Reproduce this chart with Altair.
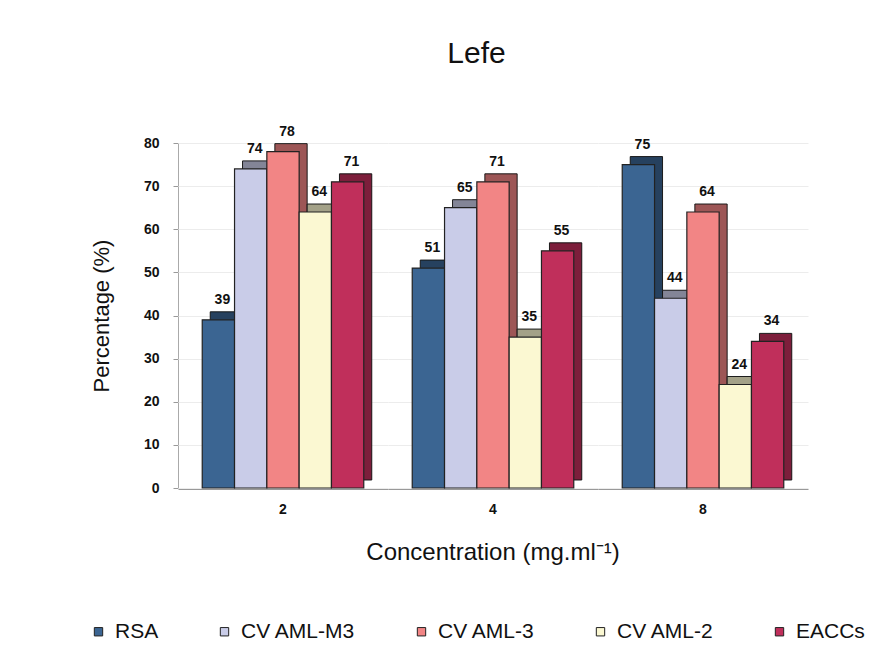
import altair as alt
import pandas as pd

concentrations = ["2", "4", "8"]
series = ["RSA", "CV AML-M3", "CV AML-3", "CV AML-2", "EACCs"]
colors = ["#3B6592", "#C9CCE8", "#F28585", "#FBF8D2", "#C02F5B"]
values = {
    "RSA": [39, 51, 75],
    "CV AML-M3": [74, 65, 44],
    "CV AML-3": [78, 71, 64],
    "CV AML-2": [64, 35, 24],
    "EACCs": [71, 55, 34],
}

rows = []
for s in series:
    for c, v in zip(concentrations, values[s]):
        rows.append({"conc": c, "series": s, "value": v})
df = pd.DataFrame(rows)

D = 8  # depth in px

x = alt.X("series:N", sort=series,
          scale=alt.Scale(paddingInner=0, paddingOuter=0.75),
          axis=alt.Axis(title=None, labels=False, ticks=False, grid=False,
                        domainColor="#999"))
y = alt.Y("value:Q", scale=alt.Scale(domain=[0, 80]),
          axis=alt.Axis(title="Percentage (%)", values=list(range(0, 81, 10)),
                        labelFontSize=14, labelFontWeight="bold", labelColor="#111",
                        titleFontSize=22, titleFontWeight="normal", titlePadding=30,
                        titleColor="#111", gridColor="#ececec", domainColor="#aaa",
                        tickColor="#999", tickSize=5, labelPadding=14))
color = alt.Color("series:N", sort=series,
                  scale=alt.Scale(domain=series, range=colors),
                  legend=alt.Legend(orient="none", legendX=-90, legendY=478,
                                    direction="horizontal", title=None,
                                    symbolType="square", symbolSize=70,
                                    symbolStrokeColor="#222", symbolStrokeWidth=1,
                                    labelFontSize=21, labelColor="#111",
                                    columnPadding=55, labelOffset=6))

base = alt.Chart()

depth = base.mark_bar(xOffset=D, yOffset=-D, stroke="#222", strokeWidth=1).encode(
    x=x, y=y, color=color)
shade = base.mark_bar(xOffset=D, yOffset=-D, color="black", opacity=0.35).encode(
    x=x, y=y)
front = base.mark_bar(stroke="#222", strokeWidth=1.2).encode(
    x=x, y=y, color=color)
labels = base.mark_text(dy=-D - 5, dx=D / 2, fontSize=14, fontWeight="bold",
                        color="#111", baseline="bottom").encode(
    x=x, y=y, text="value:Q")

chart = alt.layer(depth, shade, front, labels, data=df).properties(
    width=210, height=345,
).facet(
    column=alt.Column("conc:N", sort=concentrations,
                      header=alt.Header(labelOrient="bottom", titleOrient="bottom",
                                        title="Concentration (mg.ml⁻¹)",
                                        labelFontSize=14, labelFontWeight="bold",
                                        labelColor="#111", labelPadding=14,
                                        titleFontSize=24, titleFontWeight="normal",
                                        titleColor="#111", titlePadding=14)),
    spacing=0,
).properties(
    title=alt.Title("Lefe", fontSize=30, fontWeight="normal", color="#111",
                    offset=56, anchor="middle"),
    padding={"left": 88, "top": 38, "right": 2, "bottom": 3},
).configure(font="Liberation Sans").configure_view(strokeWidth=0, stroke=None)

chart.save("out.html", embed_options={"renderer": "svg", "actions": False})
